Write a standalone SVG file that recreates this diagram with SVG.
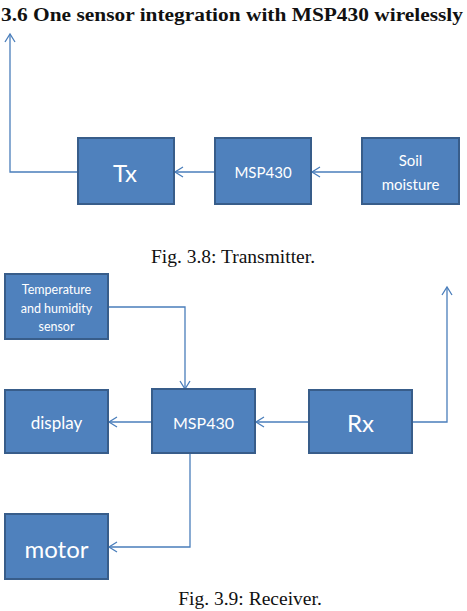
<svg xmlns="http://www.w3.org/2000/svg" width="467" height="611" viewBox="0 0 467 611">
<style>
.box{fill:#4F81BD;stroke:#385D8A;stroke-width:2}
.lbl{fill:#fff;font-family:Lato,"Open Sans",sans-serif;text-anchor:middle;dominant-baseline:central}
.cap{fill:#111;font-family:"Liberation Serif",serif;font-size:19.5px;text-anchor:middle}
.ln{fill:none;stroke:#4A7EBB;stroke-width:1.3;marker-end:url(#ah)}
</style>
<defs>
<marker id="ah" markerWidth="12" markerHeight="12" refX="10" refY="6" orient="auto" markerUnits="userSpaceOnUse">
<path d="M2,1 L10,6 L2,11" fill="none" stroke="#4A7EBB" stroke-width="1.3"/>
</marker>
</defs>
<text x="1" y="21" font-family="Liberation Serif,serif" font-weight="bold" font-size="18" fill="#111" textLength="462" lengthAdjust="spacingAndGlyphs">3.6 One sensor integration with MSP430 wirelessly</text>
<g id="connectors">
<path class="ln" d="M78,172 H10 V34"/>
<path class="ln" d="M215,172 H175"/>
<path class="ln" d="M362,172 H312"/>
<path class="ln" d="M108,307 H185 V389"/>
<path class="ln" d="M152,422 H109"/>
<path class="ln" d="M309,422 H256"/>
<path class="ln" d="M412,422 H447 V287"/>
<path class="ln" d="M190,453 V547 H109"/>
</g>
<g id="tx"><rect class="box" x="78" y="138" width="96" height="66"/><text class="lbl" x="125" y="172" font-size="24">Tx</text></g>
<g id="msp430-tx"><rect class="box" x="215" y="138" width="96" height="66"/><text class="lbl" x="263" y="172" font-size="15">MSP430</text></g>
<g id="soil"><rect class="box" x="362" y="138" width="97" height="66"/><text class="lbl" x="410.5" y="160" font-size="15">Soil</text><text class="lbl" x="410.5" y="184" font-size="15">moisture</text></g>
<text class="cap" x="233" y="263">Fig. 3.8: Transmitter.</text>
<g id="temp"><rect class="box" x="5" y="274" width="103" height="65"/><text class="lbl" x="56.5" y="289" font-size="12.5">Temperature</text><text class="lbl" x="56.5" y="308" font-size="12.5">and humidity</text><text class="lbl" x="56.5" y="326" font-size="12.5">sensor</text></g>
<g id="display"><rect class="box" x="5" y="390" width="103" height="63"/><text class="lbl" x="56.5" y="422" font-size="17">display</text></g>
<g id="msp430-rx"><rect class="box" x="152" y="389" width="103" height="64"/><text class="lbl" x="203.5" y="422" font-size="16">MSP430</text></g>
<g id="rx"><rect class="box" x="309" y="390" width="103" height="63"/><text class="lbl" x="360.5" y="422" font-size="24">Rx</text></g>
<g id="motor"><rect class="box" x="5" y="514" width="103" height="65"/><text class="lbl" x="56.5" y="548" font-size="24">motor</text></g>
<text class="cap" x="250" y="605">Fig. 3.9: Receiver.</text>
</svg>
